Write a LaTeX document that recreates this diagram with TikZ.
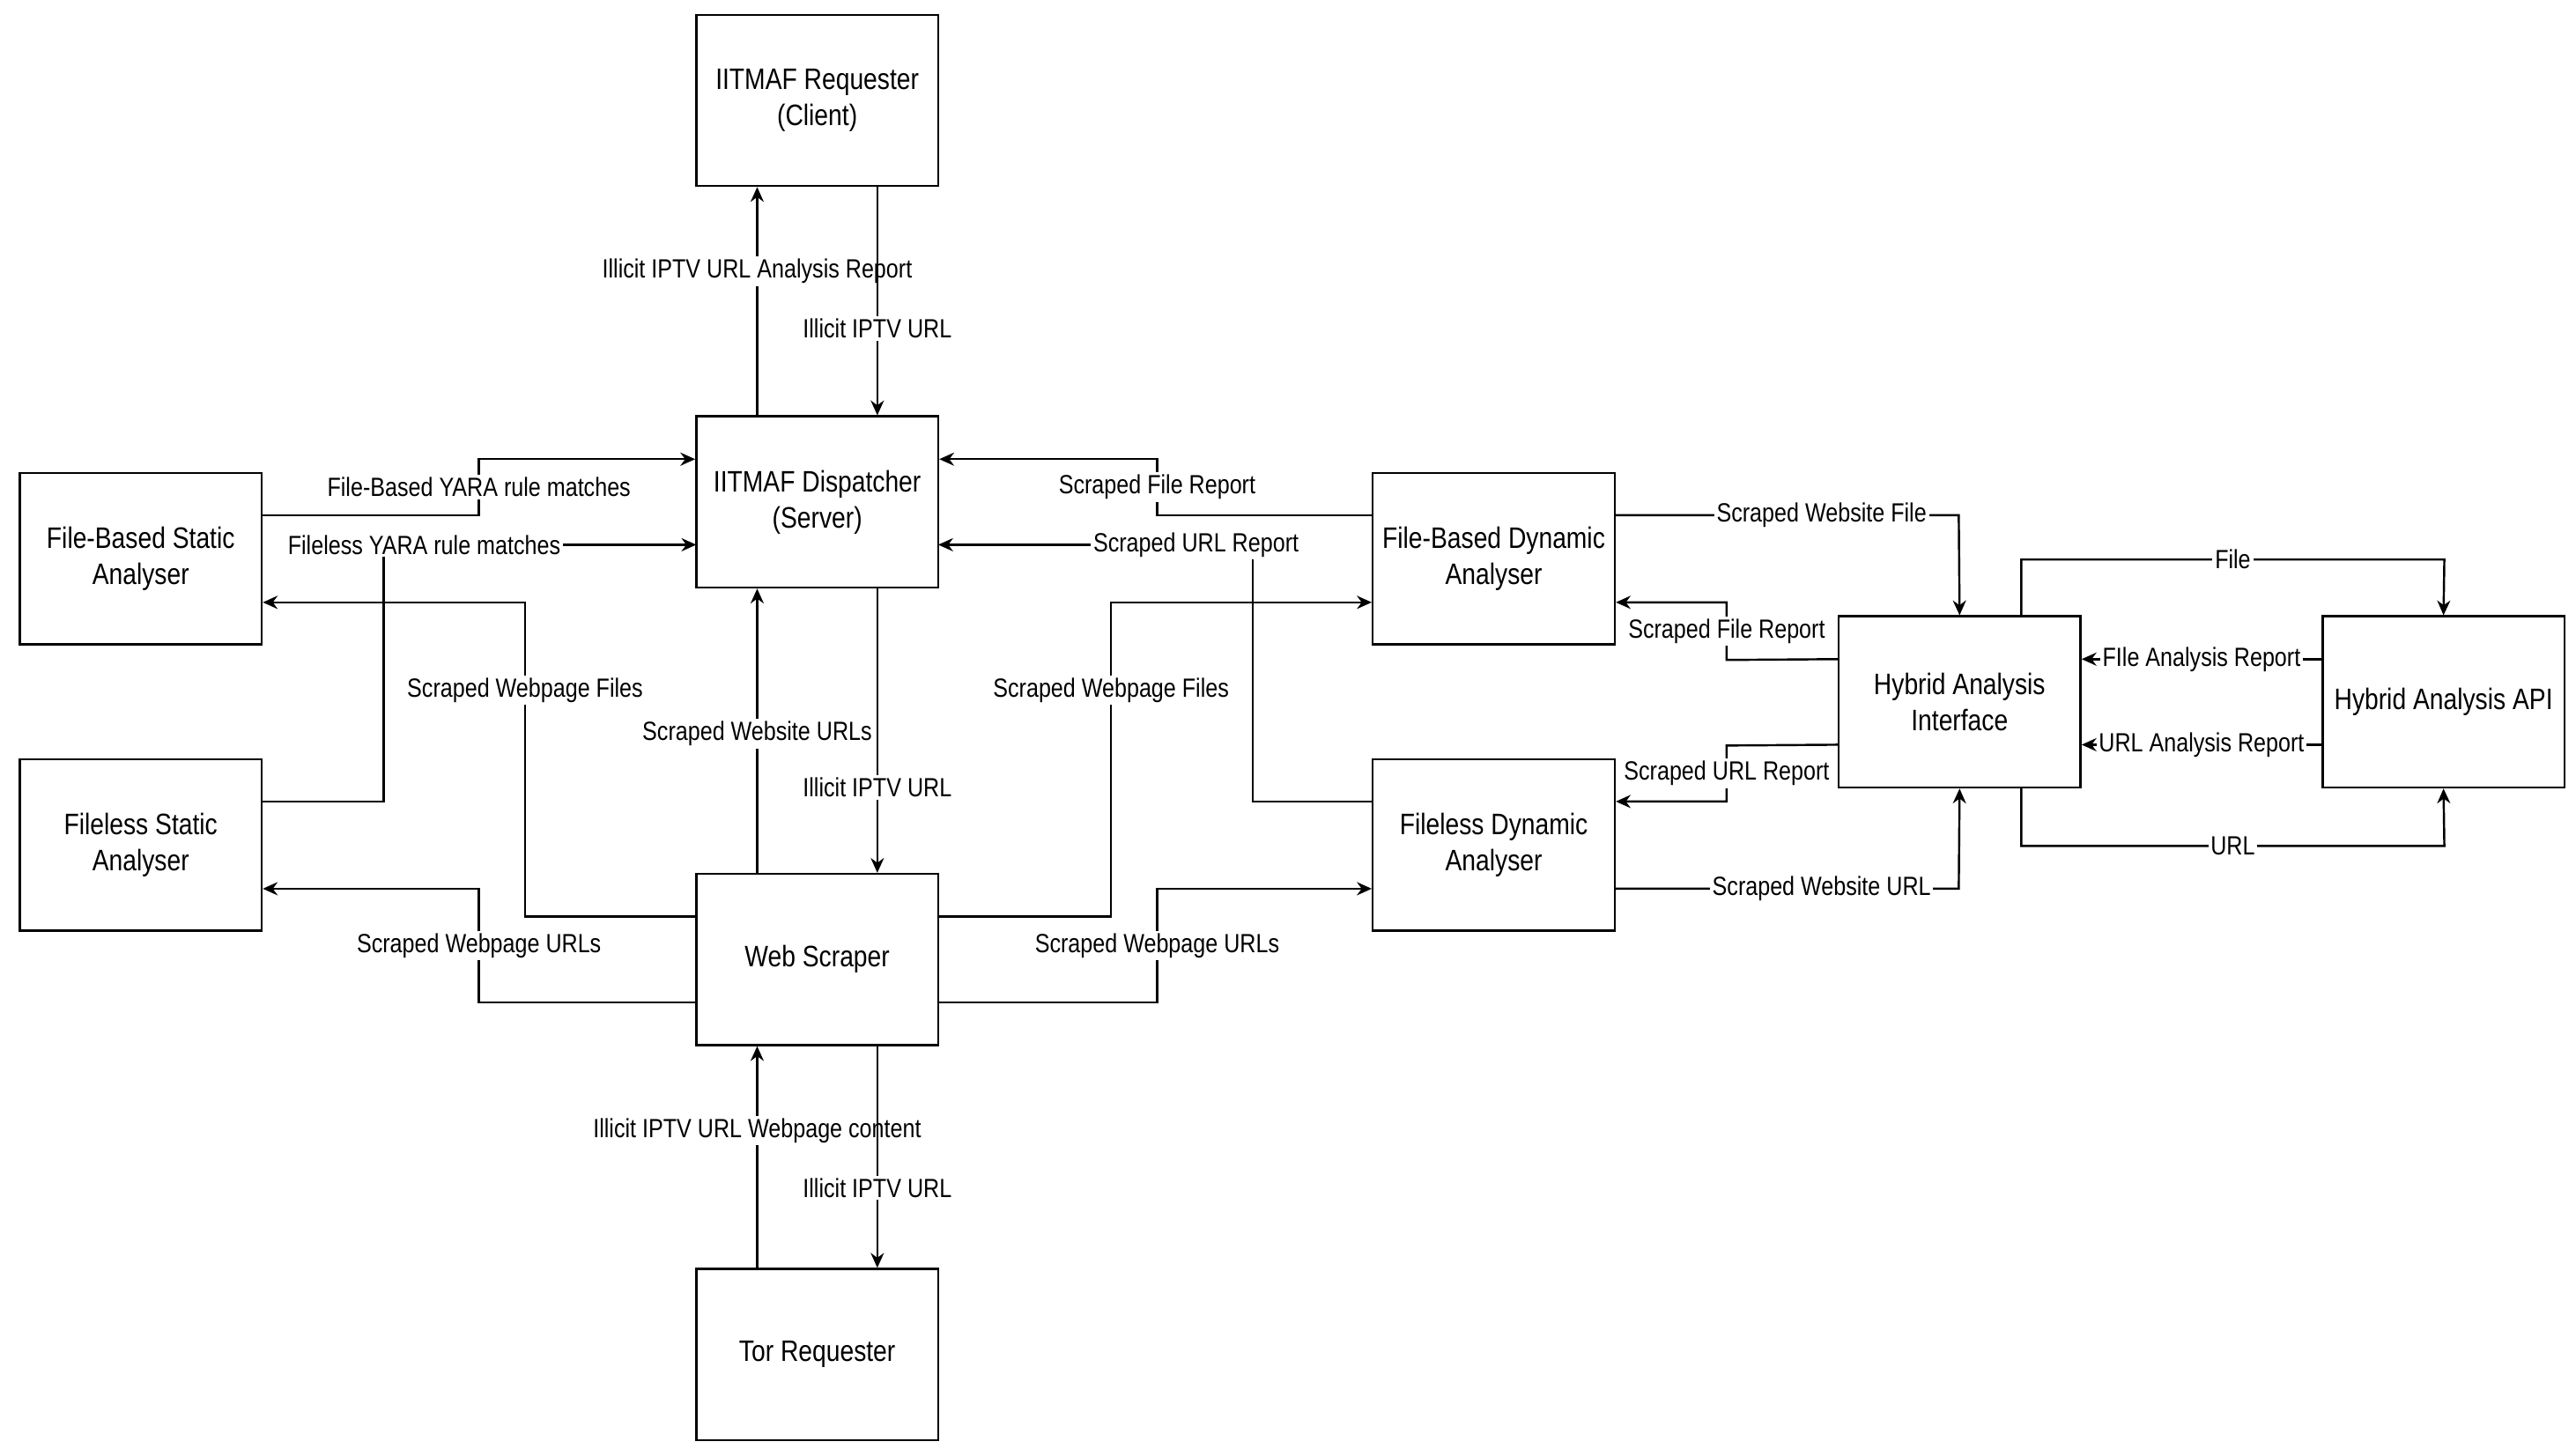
\documentclass[tikz,border=0pt]{standalone}
\usepackage{fontspec}
\setmainfont{Liberation Sans}[FakeStretch=0.84]
\usetikzlibrary{arrows.meta}
\begin{document}
\begin{tikzpicture}[x=1pt,y=-1pt,
  box/.style={draw,line width=1.3pt,minimum width=147pt,minimum height=104pt,align=center,font=\fontsize{18}{22}\selectfont,inner sep=0pt},
  ln/.style={line width=1.3pt,-{Stealth[length=9pt,width=8pt]}},
  lb/.style={fill=white,inner sep=1.5pt,font=\fontsize{16}{18}\selectfont}]
\useasboundingbox (0,0) rectangle (1565,880);
\node[box] (req) at (496.5,61) {IITMAF Requester\\(Client)};
\node[box] (dis) at (496.5,305) {IITMAF Dispatcher\\(Server)};
\node[box] (ws) at (496.5,583) {Web Scraper};
\node[box] (tor) at (496.5,823) {Tor Requester};
\node[box] (fbs) at (85.5,339.5) {File-Based Static\\Analyser};
\node[box] (fls) at (85.5,513.5) {Fileless Static\\Analyser};
\node[box] (fbd) at (907.5,339.5) {File-Based Dynamic\\Analyser};
\node[box] (fld) at (907.5,513.5) {Fileless Dynamic\\Analyser};
\node[box] (hai) at (1190.5,426.5) {Hybrid Analysis\\Interface};
\node[box] (api) at (1484.5,426.5) {Hybrid Analysis API};

\draw[ln] ([xshift=-36.5pt]dis.north) -- ([xshift=-36.5pt]req.south) node[lb,pos=0.63]{Illicit IPTV URL Analysis Report};
\draw[ln] ([xshift=36.5pt]req.south) -- ([xshift=36.5pt]dis.north) node[lb,pos=0.62]{Illicit IPTV URL};
\draw[ln] ([xshift=-36.5pt]ws.north) -- ([xshift=-36.5pt]dis.south) node[lb,pos=0.49]{Scraped Website URLs};
\draw[ln] ([xshift=36.5pt]dis.south) -- ([xshift=36.5pt]ws.north) node[lb,pos=0.7]{Illicit IPTV URL};
\draw[ln] ([xshift=-36.5pt]tor.north) -- ([xshift=-36.5pt]ws.south) node[lb,pos=0.62]{Illicit IPTV URL Webpage content};
\draw[ln] ([xshift=36.5pt]ws.south) -- ([xshift=36.5pt]tor.north) node[lb,pos=0.64]{Illicit IPTV URL};

\draw[ln] ([yshift=26.5pt]fbs.east) -- (291,313) -- (291,279) node[lb,pos=0.5]{File-Based YARA rule matches} -- ([yshift=26pt]dis.west);
\draw[ln] ([yshift=26.5pt]fls.east) -- (233,487) -- (233,331) -- (423,331) node[lb,pos=0.13]{Fileless YARA rule matches};
\draw[ln] ([yshift=26pt]ws.west) -- (319,557) -- (319,366) node[lb,pos=0.72]{Scraped Webpage Files} -- ([yshift=-26.5pt]fbs.east);
\draw[ln] ([yshift=-26pt]ws.west) -- (291,609) -- (291,540) node[lb,pos=0.5]{Scraped Webpage URLs} -- ([yshift=-26.5pt]fls.east);
\draw[ln] ([yshift=26pt]ws.east) -- (675,557) -- (675,366) node[lb,pos=0.72]{Scraped Webpage Files} -- ([yshift=-26.5pt]fbd.west);
\draw[ln] ([yshift=-26pt]ws.east) -- (703,609) -- (703,540) node[lb,pos=0.5]{Scraped Webpage URLs} -- ([yshift=-26.5pt]fld.west);
\draw[ln] ([yshift=26.5pt]fbd.west) -- (703,313) -- (703,279) node[lb,pos=0.5]{Scraped File Report} -- ([yshift=26pt]dis.east);
\draw[ln] ([yshift=26.5pt]fld.west) -- (761,487) -- (761,331) -- (570,331) node[lb,pos=0.18]{Scraped URL Report};

\draw[ln] ([yshift=26.5pt]fbd.east) -- (1190,313) node[lb,pos=0.6]{Scraped Website File} -- (hai.north);
\draw[ln] ([yshift=26pt]hai.west) -- (1049,401) -- (1049,366) node[lb,pos=0.5]{Scraped File Report} -- ([yshift=-26.5pt]fbd.east);
\draw[ln] ([yshift=-26pt]hai.west) -- (1049,453) -- (1049,487) node[lb,pos=0.5]{Scraped URL Report} -- ([yshift=26.5pt]fld.east);
\draw[ln] ([yshift=-26.5pt]fld.east) -- (1190,540) node[lb,pos=0.6]{Scraped Website URL} -- (hai.south);
\draw[ln] ([xshift=37.5pt]hai.north) -- (1228,340) -- (1485,340) node[lb,pos=0.5]{File} -- (api.north);
\draw[ln] ([xshift=37.5pt]hai.south) -- (1228,514) -- (1485,514) node[lb,pos=0.5]{URL} -- (api.south);
\draw[ln] ([yshift=26pt]api.west) -- ([yshift=26pt]hai.east) node[lb,pos=0.5]{FIle Analysis Report};
\draw[ln] ([yshift=-26pt]api.west) -- ([yshift=-26pt]hai.east) node[lb,pos=0.5]{URL Analysis Report};
\end{tikzpicture}
\end{document}
